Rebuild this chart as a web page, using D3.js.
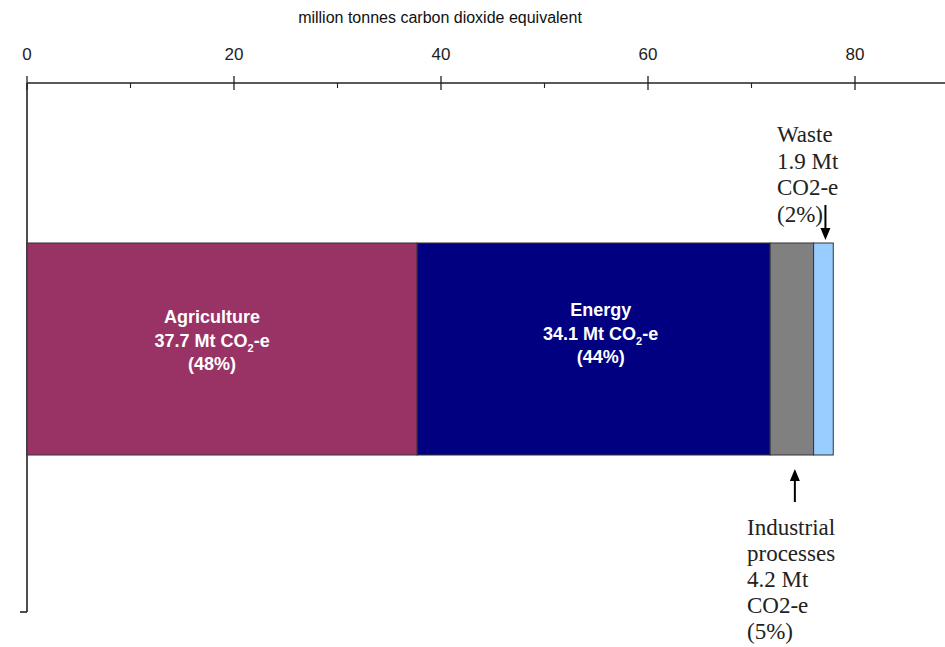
<!DOCTYPE html>
<html>
<head>
<meta charset="utf-8">
<script src="https://cdn.jsdelivr.net/npm/d3@7"></script>
<style>
  html, body { margin: 0; padding: 0; background: #fff; }
  svg { display: block; }
</style>
</head>
<body>
<svg id="chart" width="945" height="647"></svg>
<script>
// Sector emissions, million tonnes CO2-e
const sectors = ["Agriculture", "Energy", "Industrial processes", "Waste"];
const values = [37.7, 34.1, 4.2, 1.9];
const shares = ["48%", "44%", "5%", "2%"];
const colors = ["#993366", "#000080", "#808080", "#99CCFF"];
const majorTicks = [0, 20, 40, 60, 80];
const minorTicks = [10, 30, 50, 70];
const rowName = ["Emissions"];

const svg = d3.select("#chart");
const left = 27, axisY = 83, bottomY = 612;

const x = d3.scaleLinear().domain([0, 80]).range([left, 855]);
const y = d3.scaleBand().domain(rowName).range([axisY + 1, bottomY + 2]).paddingInner(0).paddingOuter(0.75);

// Title
svg.append("text")
  .attr("x", 440).attr("y", 23)
  .attr("text-anchor", "middle")
  .attr("font-family", "Liberation Sans, Arial, sans-serif")
  .attr("font-size", 16)
  .attr("fill", "#111")
  .text("million tonnes carbon dioxide equivalent");

// Top axis: major ticks cross the line, minor ticks hang below
const axisG = svg.append("g").attr("transform", `translate(0,${axisY})`);
axisG.append("line")
  .attr("x1", x(0)).attr("x2", 945)
  .attr("stroke", "#222").attr("stroke-width", 1.6);
const major = axisG.selectAll("g.major").data(majorTicks).join("g")
  .attr("class", "major")
  .attr("transform", d => `translate(${x(d)},0)`);
major.append("line").attr("y1", -7).attr("y2", 7).attr("stroke", "#222").attr("stroke-width", 1.3);
major.append("text")
  .attr("y", -23)
  .attr("text-anchor", "middle")
  .attr("font-family", "Liberation Sans, Arial, sans-serif")
  .attr("font-size", 17)
  .attr("fill", "#222")
  .text(d => d);
axisG.selectAll("line.minor").data(minorTicks).join("line")
  .attr("class", "minor")
  .attr("x1", d => x(d)).attr("x2", d => x(d))
  .attr("y1", 0).attr("y2", 5)
  .attr("stroke", "#222").attr("stroke-width", 1.1);

// Left category axis
svg.append("line")
  .attr("x1", left).attr("x2", left)
  .attr("y1", axisY).attr("y2", bottomY)
  .attr("stroke", "#222").attr("stroke-width", 1.6);
svg.append("line")
  .attr("x1", left - 7).attr("x2", left)
  .attr("y1", bottomY).attr("y2", bottomY)
  .attr("stroke", "#222").attr("stroke-width", 1.6);

// Stacked segments
const starts = d3.cumsum([0, ...values]).slice(0, values.length);
const segs = sectors.map((s, i) => ({ name: s, value: values[i], start: starts[i], share: shares[i], color: colors[i] }));

svg.selectAll("rect.seg").data(segs).join("rect")
  .attr("class", "seg")
  .attr("x", d => x(d.start))
  .attr("y", y(rowName[0]))
  .attr("width", d => x(d.start + d.value) - x(d.start))
  .attr("height", y.bandwidth())
  .attr("fill", d => d.color)
  .attr("stroke", "#333")
  .attr("stroke-width", 1);

// In-bar labels for the two large sectors (small nudges off the segment centre)
const yMid = y(rowName[0]) + y.bandwidth() / 2;
const labelNudge = [[-10, 0], [7, -7]];
segs.slice(0, 2).forEach((d, i) => {
  const cx = (x(d.start) + x(d.start + d.value)) / 2 + labelNudge[i][0];
  const y0 = yMid + labelNudge[i][1];
  const t = svg.append("text")
    .attr("text-anchor", "middle")
    .attr("font-family", "Liberation Sans, Arial, sans-serif")
    .attr("font-size", 18)
    .attr("font-weight", "bold")
    .attr("fill", "#fff");
  t.append("tspan").attr("x", cx).attr("y", y0 - 26).text(d.name);
  const l2 = t.append("tspan").attr("x", cx).attr("y", y0 - 2);
  l2.append("tspan").text(`${d.value} Mt CO`);
  l2.append("tspan").attr("font-size", 11).attr("dy", 5).text("2");
  l2.append("tspan").attr("dy", -5).text("-e");
  t.append("tspan").attr("x", cx).attr("y", y0 + 21).text(`(${d.share})`);
});

// Callouts for the two small sectors
function arrow(x0, y0, y1) {
  const dir = y1 > y0 ? 1 : -1;
  svg.append("line")
    .attr("x1", x0).attr("x2", x0)
    .attr("y1", y0).attr("y2", y1 - dir * 8)
    .attr("stroke", "#000").attr("stroke-width", 2);
  svg.append("path")
    .attr("d", `M${x0 - 5},${y1 - dir * 12} L${x0 + 5},${y1 - dir * 12} L${x0},${y1} Z`)
    .attr("fill", "#000");
}
function callout(lines, x0, y0, dy) {
  const t = svg.append("text")
    .attr("font-family", "Liberation Serif, Times New Roman, serif")
    .attr("font-size", 23)
    .attr("fill", "#222");
  lines.forEach((ln, i) => t.append("tspan").attr("x", x0).attr("y", y0 + i * dy).text(ln));
}

const waste = segs[3], ind = segs[2];
const barTop = y(rowName[0]), barBot = barTop + y.bandwidth();

callout(["Waste", `${waste.value} Mt`, "CO2-e", `(${waste.share})`], 777, 142, 26.5);
arrow(x(waste.start + waste.value / 2) + 2, 205, barTop - 3);

arrow(x(ind.start + ind.value / 2) + 3, 502, barBot + 14);
callout(["Industrial", "processes", `${ind.value} Mt`, "CO2-e", `(${ind.share})`], 747, 535, 26);
</script>
</body>
</html>
